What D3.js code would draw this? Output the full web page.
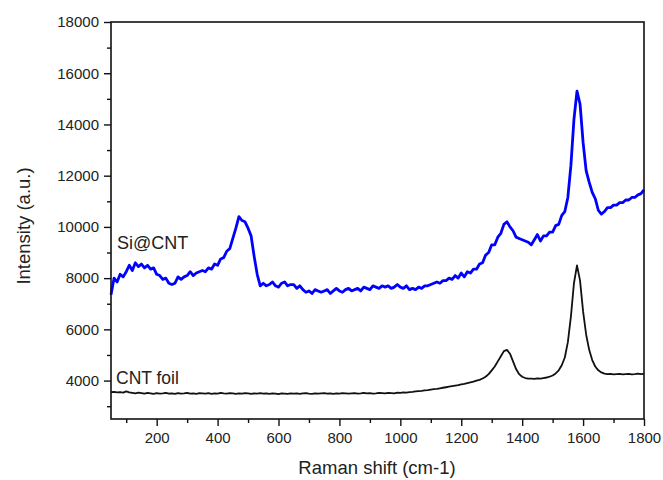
<!DOCTYPE html>
<html>
<head>
<meta charset="utf-8">
<script src="https://cdn.jsdelivr.net/npm/d3@7"></script>
<style>
    body { margin: 0; background: white; }
    .chart text { font-family: "Liberation Sans", Arial, sans-serif; fill: #222; }
</style>
</head>
<body>
<div class="chart"></div>
<script>
// Raman shift grid (cm-1), sampled every 10
var ramanShift = d3.range(50, 1801, 10);

// Si@CNT spectrum (blue)
var siCnt = [
    7350, 8000, 7850, 8150, 8050, 8250, 8500, 8300, 8600, 8450,
    8550, 8400, 8500, 8350, 8400, 8150, 8100, 7950, 8000, 7800,
    7750, 7800, 8050, 7950, 8050, 8100, 8250, 8100, 8200, 8250,
    8300, 8250, 8400, 8350, 8550, 8500, 8750, 8800, 9050, 9150,
    9550, 9950, 10400, 10250, 10200, 9950, 9650, 8850, 8150, 7700,
    7800, 7700, 7750, 7850, 7700, 7650, 7800, 7850, 7700, 7750,
    7750, 7600, 7700, 7550, 7450, 7500, 7400, 7550, 7500, 7450,
    7500, 7550, 7400, 7500, 7600, 7500, 7450, 7550, 7600, 7500,
    7550, 7600, 7500, 7650, 7600, 7550, 7700, 7650, 7600, 7700,
    7650, 7700, 7600, 7650, 7750, 7650, 7600, 7700, 7550, 7600,
    7550, 7650, 7600, 7700, 7700, 7750, 7800, 7850, 7800, 7900,
    7900, 8000, 7950, 8100, 8000, 8200, 8050, 8250, 8200, 8350,
    8350, 8550, 8600, 8900, 9000, 9300, 9300, 9600, 9750, 10100,
    10200, 10000, 9850, 9600, 9550, 9500, 9450, 9400, 9300, 9500,
    9700, 9450, 9650, 9650, 9800, 9800, 10050, 10100, 10450, 10600,
    11150, 12400, 14200, 15300, 14800, 13300, 12200, 11750, 11350, 11100,
    10650, 10500, 10600, 10750, 10750, 10850, 10850, 10950, 10950, 11050,
    11050, 11150, 11150, 11250, 11300, 11450
];

// CNT foil spectrum (black)
var cntFoil = [
    3550, 3560, 3540, 3550, 3530, 3580, 3540, 3520, 3500, 3530,
    3510, 3490, 3520, 3500, 3480, 3510, 3490, 3500, 3520, 3490,
    3500, 3480, 3510, 3490, 3500, 3520, 3490, 3500, 3480, 3510,
    3500, 3490, 3510, 3480, 3500, 3490, 3520, 3500, 3490, 3510,
    3500, 3480, 3500, 3490, 3510, 3500, 3480, 3500, 3490, 3510,
    3490, 3500, 3480, 3500, 3490, 3470, 3500, 3490, 3480, 3500,
    3490, 3500, 3480, 3500, 3510, 3490, 3480, 3500, 3490, 3500,
    3510, 3490, 3500, 3480, 3500, 3490, 3510, 3500, 3490, 3500,
    3510, 3490, 3500, 3520, 3500, 3510, 3490, 3500, 3520, 3510,
    3500, 3520, 3510, 3500, 3530, 3520, 3540, 3530, 3550, 3560,
    3580, 3590, 3600, 3620, 3630, 3650, 3670, 3680, 3700, 3720,
    3740, 3760, 3780, 3800, 3820, 3850, 3870, 3900, 3930, 3960,
    4000, 4030, 4080, 4150, 4250, 4400, 4550, 4750, 4950, 5150,
    5200, 5050, 4750, 4450, 4250, 4150, 4100, 4080, 4080, 4070,
    4090, 4080, 4100, 4120, 4150, 4200, 4280, 4400, 4600, 4900,
    5500, 6500, 7800, 8500, 7900, 6700, 5800, 5200, 4800, 4550,
    4400, 4320, 4270, 4250, 4260, 4240, 4250, 4260, 4240, 4250,
    4260, 4240, 4250, 4270, 4250, 4260
];

var xMajor = [200, 400, 600, 800, 1000, 1200, 1400, 1600, 1800];
var xMinor = [100, 300, 500, 700, 900, 1100, 1300, 1500, 1700];
var yMajor = [4000, 6000, 8000, 10000, 12000, 14000, 16000, 18000];
var yMinor = [3000, 5000, 7000, 9000, 11000, 13000, 15000, 17000];

var seriesLabels = [
    {name: "Si@CNT", x: 117, y: 249, size: 18},
    {name: "CNT foil", x: 116, y: 384, size: 17.5}
];

function drawChart(){
    var w = 663;
    var h = 480;
    var margin = {top: 22, right: 19, bottom: 61, left: 111};

    var xScale = d3.scaleLinear()
                    .domain([50, 1800])
                    .range([margin.left, w - margin.right]);

    var yScale = d3.scaleLinear()
                    .domain([2500, 18000])
                    .range([h - margin.bottom, margin.top]);

    var svg = d3.select(".chart")
                .append("svg")
                .attr("width", w)
                .attr("height", h);

    var line = d3.line()
                .x(function(d){ return xScale(d[0]); })
                .y(function(d){ return yScale(d[1]); });

    //Spectra
    svg.append("path")
        .datum(d3.zip(ramanShift, cntFoil))
        .attr("d", line)
        .attr("fill", "none")
        .attr("stroke", "#111")
        .attr("stroke-width", 1.8)
        .attr("stroke-linejoin", "round");

    svg.append("path")
        .datum(d3.zip(ramanShift, siCnt))
        .attr("d", line)
        .attr("fill", "none")
        .attr("stroke", "#0000ff")
        .attr("stroke-width", 2.8)
        .attr("stroke-linejoin", "round");

    //Minor ticks
    svg.append("g")
        .attr("transform", "translate(0," + (h - margin.bottom) + ")")
        .call(d3.axisBottom(xScale).tickValues(xMinor).tickSize(4).tickFormat(""))
        .call(function(g){ g.select(".domain").remove(); })
        .selectAll("line").attr("stroke", "#111").attr("stroke-width", 1.4);

    svg.append("g")
        .attr("transform", "translate(" + margin.left + ",0)")
        .call(d3.axisLeft(yScale).tickValues(yMinor).tickSize(4).tickFormat(""))
        .call(function(g){ g.select(".domain").remove(); })
        .selectAll("line").attr("stroke", "#111").attr("stroke-width", 1.4);

    //Major axes
    var xAxis = svg.append("g")
        .attr("transform", "translate(0," + (h - margin.bottom) + ")")
        .call(d3.axisBottom(xScale).tickValues(xMajor).tickFormat(d3.format("d"))
            .tickSize(7).tickSizeOuter(0).tickPadding(6));

    var yAxis = svg.append("g")
        .attr("transform", "translate(" + margin.left + ",0)")
        .call(d3.axisLeft(yScale).tickValues(yMajor).tickFormat(d3.format("d"))
            .tickSize(7).tickSizeOuter(0).tickPadding(5));

    [xAxis, yAxis].forEach(function(g){
        g.selectAll("line").attr("stroke", "#111").attr("stroke-width", 1.4);
        g.select(".domain").remove();
        g.selectAll("text")
            .attr("fill", "#222")
            .style("font-size", "15px")
            .style("font-family", "Liberation Sans, Arial, sans-serif");
    });

    //Frame
    svg.append("rect")
        .attr("x", margin.left)
        .attr("y", margin.top)
        .attr("width", w - margin.left - margin.right)
        .attr("height", h - margin.top - margin.bottom)
        .attr("fill", "none")
        .attr("stroke", "#111")
        .attr("stroke-width", 1.6);

    //Axis titles
    svg.append("text")
        .attr("x", 377)
        .attr("y", 474)
        .attr("text-anchor", "middle")
        .style("font-size", "18.5px")
        .text("Raman shift (cm-1)");

    svg.append("text")
        .attr("transform", "translate(30,226) rotate(-90)")
        .attr("text-anchor", "middle")
        .style("font-size", "18.5px")
        .text("Intensity (a.u.)");

    //Series labels
    svg.selectAll(".series-label")
        .data(seriesLabels)
        .enter()
        .append("text")
        .attr("class", "series-label")
        .attr("x", function(d){ return d.x; })
        .attr("y", function(d){ return d.y; })
        .style("font-size", function(d){ return d.size + "px"; })
        .text(function(d){ return d.name; });
}

drawChart();
</script>
</body>
</html>
